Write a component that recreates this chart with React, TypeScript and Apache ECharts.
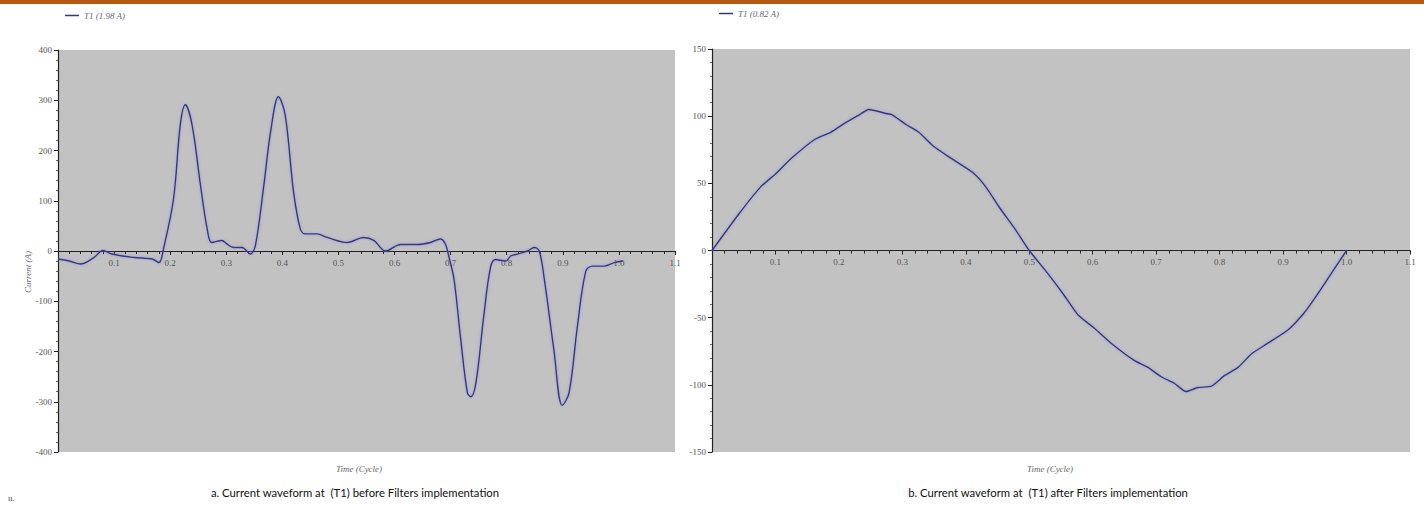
import React, { useEffect, useRef } from "react";
import * as echarts from "echarts";

const tBefore = [0, 0.02, 0.04, 0.064, 0.08, 0.096, 0.136, 0.168, 0.18, 0.188, 0.206, 0.218, 0.227, 0.239, 0.254, 0.266, 0.274, 0.292, 0.301, 0.313, 0.328, 0.343, 0.352, 0.367, 0.379, 0.393, 0.405, 0.42, 0.432, 0.441, 0.462, 0.48, 0.516, 0.545, 0.563, 0.584, 0.611, 0.641, 0.664, 0.682, 0.691, 0.697, 0.706, 0.718, 0.73, 0.736, 0.745, 0.759, 0.771, 0.78, 0.798, 0.807, 0.816, 0.837, 0.849, 0.858, 0.867, 0.884, 0.899, 0.911, 0.926, 0.941, 0.953, 0.974, 0.992, 1.007];
const iBefore = [-16, -20, -26, -13, 1, -6, -13, -16, -23, 4, 104, 251, 291, 251, 131, 44, 17, 21, 14, 7, 7, -6, 11, 131, 237, 307, 271, 117, 44, 34, 34, 27, 17, 27, 21, 0, 13, 13, 17, 24, 13, -12, -56, -176, -283, -290, -263, -130, -33, -17, -20, -10, -7, 0, 7, 0, -56, -196, -307, -283, -150, -40, -30, -30, -23, -20];

const tAfter = [0, 0.042, 0.076, 0.1, 0.126, 0.163, 0.187, 0.21, 0.232, 0.247, 0.274, 0.284, 0.305, 0.326, 0.348, 0.379, 0.411, 0.432, 0.453, 0.479, 0.5, 0.529, 0.553, 0.577, 0.603, 0.629, 0.666, 0.687, 0.708, 0.729, 0.747, 0.766, 0.787, 0.808, 0.829, 0.85, 0.876, 0.908, 0.934, 0.955, 0.976, 1.0];
const iAfter = [0, 27, 47, 57, 69, 83, 88, 95, 101, 105, 102, 101, 94, 88, 78, 68, 58, 47, 32, 15, 0, -17, -32, -48, -58, -69, -82, -87, -94, -99, -105, -102, -101, -93, -87, -77, -69, -59, -46, -32, -17, 0];

const seriesNames = ["T1 (1.98 A)", "T1 (0.82 A)"];
const yRangeBefore = { min: -400, max: 400, interval: 100 };
const yRangeAfter = { min: -150, max: 150, interval: 50 };
const xRange = { min: 0, max: 1.1, interval: 0.1 };
const xAxisTitle = "Time (Cycle)";
const yAxisTitle = "Current (A)";
const captions = [
  "a. Current waveform at  (T1) before Filters implementation",
  "b. Current waveform at  (T1) after Filters implementation",
];

const SERIF = "'Liberation Serif', 'DejaVu Serif', serif";
const AX = "#222";
const LBL = "#555";

function xAxisCfg(gridIndex: number, offset: number) {
  return {
    type: "value",
    gridIndex,
    min: xRange.min,
    max: xRange.max,
    interval: xRange.interval,
    position: "bottom",
    offset,
    axisLine: { show: true, onZero: false, lineStyle: { color: AX, width: 1.2 } },
    axisTick: { show: true, length: 4, lineStyle: { color: AX } },
    minorTick: { show: true, splitNumber: 5, length: 3, lineStyle: { color: AX } },
    splitLine: { show: false },
    axisLabel: {
      color: LBL,
      fontFamily: SERIF,
      fontSize: 9,
      margin: 7,
      showMaxLabel: true,
      formatter: (v: number) => (Math.abs(v) < 1e-9 ? "" : v.toFixed(1)),
    },
  };
}

function yAxisCfg(gridIndex: number, r: { min: number; max: number; interval: number }) {
  return {
    type: "value",
    gridIndex,
    min: r.min,
    max: r.max,
    interval: r.interval,
    axisLine: { show: true, onZero: false, lineStyle: { color: AX, width: 1.2 } },
    axisTick: { show: true, length: 4, lineStyle: { color: AX } },
    minorTick: { show: true, splitNumber: 5, length: 2, lineStyle: { color: "#666" } },
    splitLine: { show: false },
    axisLabel: { color: LBL, fontFamily: SERIF, fontSize: 9, margin: 6 },
  };
}

const lineStyle = {
  color: "#35357a",
  width: 1.4,
  shadowColor: "rgba(130,130,235,0.7)",
  shadowBlur: 3,
};

export default function App() {
  const ref = useRef<HTMLDivElement>(null);
  useEffect(() => {
    document.body.style.margin = "0";
    const chart = echarts.init(ref.current!, undefined, { renderer: "svg" });
    chart.setOption({
      animation: false,
      backgroundColor: "#ffffff",
      grid: [
        { left: 58, top: 50, width: 617, height: 402, show: true, backgroundColor: "#c2c2c2", borderWidth: 0 },
        { left: 712, top: 49, width: 698, height: 403, show: true, backgroundColor: "#c2c2c2", borderWidth: 0 },
      ],
      legend: [
        {
          data: [seriesNames[0]],
          left: 60,
          top: 6,
          icon: "rect",
          itemWidth: 14,
          itemHeight: 1.5,
          textStyle: { color: "#667", fontFamily: SERIF, fontStyle: "italic", fontSize: 9 },
        },
        {
          data: [seriesNames[1]],
          left: 714,
          top: 4,
          icon: "rect",
          itemWidth: 14,
          itemHeight: 1.5,
          textStyle: { color: "#667", fontFamily: SERIF, fontStyle: "italic", fontSize: 9 },
        },
      ],
      xAxis: [xAxisCfg(0, -201), xAxisCfg(1, -201.5)],
      yAxis: [yAxisCfg(0, yRangeBefore), yAxisCfg(1, yRangeAfter)],
      series: [
        {
          name: seriesNames[0],
          type: "line",
          xAxisIndex: 0,
          yAxisIndex: 0,
          data: tBefore.map((t, i) => [t, iBefore[i]]),
          symbol: "none",
          smooth: 0.35,
          lineStyle,
          itemStyle: { color: "#35357a" },
        },
        {
          name: seriesNames[1],
          type: "line",
          xAxisIndex: 1,
          yAxisIndex: 1,
          data: tAfter.map((t, i) => [t, iAfter[i]]),
          symbol: "none",
          smooth: 0.2,
          lineStyle,
          itemStyle: { color: "#35357a" },
        },
      ],
      graphic: [
        { type: "rect", left: 0, top: 0, shape: { x: 0, y: 0, width: 1424, height: 4 }, style: { fill: "#b4590f" } },
        {
          type: "text",
          x: 359,
          y: 469,
          style: { text: xAxisTitle, fill: "#666", font: `italic 9px ${SERIF}`, textAlign: "center", textVerticalAlign: "middle" },
        },
        {
          type: "text",
          x: 1050,
          y: 469,
          style: { text: xAxisTitle, fill: "#666", font: `italic 9px ${SERIF}`, textAlign: "center", textVerticalAlign: "middle" },
        },
        {
          type: "text",
          x: 28,
          y: 272,
          rotation: Math.PI / 2,
          style: { text: yAxisTitle, fill: "#666", font: `italic 9px ${SERIF}`, textAlign: "center", textVerticalAlign: "middle" },
        },
        {
          type: "text",
          x: 355,
          y: 492,
          style: { text: captions[0], fill: "#111", font: "11.3px Lato, 'Open Sans', sans-serif", textAlign: "center", textVerticalAlign: "middle" },
        },
        {
          type: "text",
          x: 1048,
          y: 492,
          style: { text: captions[1], fill: "#111", font: "11.3px Lato, 'Open Sans', sans-serif", textAlign: "center", textVerticalAlign: "middle" },
        },
        {
          type: "text",
          x: 8,
          y: 498,
          style: { text: "ıı.", fill: "#333", font: `8px ${SERIF}`, textVerticalAlign: "middle" },
        },
      ],
    });
    return () => chart.dispose();
  }, []);
  return <div ref={ref} style={{ width: 1424, height: 507 }} />;
}
